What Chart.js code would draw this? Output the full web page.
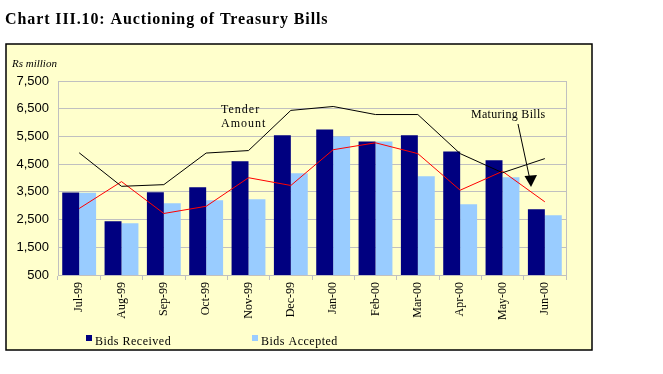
<!DOCTYPE html>
<html>
<head>
<meta charset="utf-8">
<script src="https://cdn.jsdelivr.net/npm/chart.js@4/dist/chart.umd.min.js"></script>
<style>
  html, body { margin: 0; padding: 0; background: #fff; }
  #wrap { width: 663px; height: 374px; position: relative; }
</style>
</head>
<body>
<div id="wrap"><canvas id="chart" width="663" height="374"></canvas></div>
<script>
const months = ["Jul-99", "Aug-99", "Sep-99", "Oct-99", "Nov-99", "Dec-99", "Jan-00", "Feb-00", "Mar-00", "Apr-00", "May-00", "Jun-00"];
const bidsReceived = [3480, 2440, 3490, 3670, 4600, 5540, 5750, 5320, 5540, 4960, 4640, 2870];
const bidsAccepted = [3470, 2370, 3090, 3200, 3230, 4170, 5500, 5320, 4060, 3050, 4030, 2660];
const tenderAmount = [4910, 3700, 3760, 4900, 4990, 6440, 6580, 6290, 6290, 4880, 4190, 4700];
const maturingBills = [2900, 3870, 2720, 2980, 4010, 3730, 5020, 5270, 4880, 3560, 4240, 3140];
const yMin = 500, yMax = 7500, yStep = 1000;

const SERIF = '"Liberation Serif", "Times New Roman", serif';
const SANS = '"Liberation Sans", Arial, sans-serif';

function spacedText(ctx, txt, x, y, spacing) {
  ctx.letterSpacing = spacing + 'px';
  ctx.fillText(txt, x, y);
  ctx.letterSpacing = '0px';
}

// panel, title, notes, legend
const decor = {
  id: 'decor',
  beforeDraw(chart) {
    const ctx = chart.ctx;
    ctx.save();
    ctx.fillStyle = '#ffffff';
    ctx.fillRect(0, 0, chart.width, chart.height);
    ctx.fillStyle = '#FFFFCC';
    ctx.fillRect(6, 44, 586, 306);
    ctx.strokeStyle = '#000';
    ctx.lineWidth = 1.5;
    ctx.strokeRect(6, 44, 586, 306);
    ctx.restore();
  },
  afterDraw(chart) {
    const ctx = chart.ctx;
    const a = chart.chartArea;
    ctx.save();
    // right edge of plot
    ctx.strokeStyle = '#C0C0C0';
    ctx.lineWidth = 1;
    ctx.beginPath();
    ctx.moveTo(Math.round(a.right) + 0.5, a.top);
    ctx.lineTo(Math.round(a.right) + 0.5, a.bottom);
    ctx.stroke();

    ctx.fillStyle = '#000';
    ctx.textBaseline = 'alphabetic';
    ctx.textAlign = 'left';
    ctx.font = 'bold 16px ' + SERIF;
    spacedText(ctx, 'Chart III.10: Auctioning of Treasury Bills', 5, 24, 0.9);

    ctx.font = 'italic 11px ' + SERIF;
    ctx.fillText('Rs million', 12, 67);

    ctx.font = '12px ' + SERIF;
    spacedText(ctx, 'Tender', 221, 113, 1);
    spacedText(ctx, 'Amount', 221, 127, 1);
    spacedText(ctx, 'Maturing Bills', 471, 118, 0.3);

    // arrow
    ctx.strokeStyle = '#000';
    ctx.beginPath();
    ctx.moveTo(518, 124);
    ctx.lineTo(530, 180);
    ctx.stroke();
    ctx.beginPath();
    ctx.moveTo(531, 187);
    ctx.lineTo(524.5, 176);
    ctx.lineTo(537, 175);
    ctx.closePath();
    ctx.fill();

    // legend for the bar series
    const items = chart.data.datasets.filter(d => d.type === 'bar');
    const lx = [86, 252];
    ctx.font = '12px ' + SERIF;
    ctx.textBaseline = 'middle';
    items.forEach((d, i) => {
      ctx.fillStyle = d.backgroundColor;
      ctx.fillRect(lx[i], 335, 6, 6);
      ctx.fillStyle = '#000';
      spacedText(ctx, d.label, lx[i] + 9, 342, 0.5);
    });
    ctx.restore();
  }
};

new Chart(document.getElementById('chart'), {
  data: {
    labels: months,
    datasets: [
      { type: 'line', label: 'Tender Amount', data: tenderAmount, borderColor: '#000000', borderWidth: 1, pointRadius: 0, tension: 0, fill: false, order: 0 },
      { type: 'line', label: 'Maturing Bills', data: maturingBills, borderColor: '#FF0000', borderWidth: 1, pointRadius: 0, tension: 0, fill: false, order: 0 },
      { type: 'bar', label: 'Bids Received', data: bidsReceived, backgroundColor: '#000080', categoryPercentage: 0.8, barPercentage: 1.0, order: 1 },
      { type: 'bar', label: 'Bids Accepted', data: bidsAccepted, backgroundColor: '#99CCFF', categoryPercentage: 0.8, barPercentage: 1.0, order: 1 }
    ]
  },
  options: {
    responsive: false,
    animation: false,
    layout: { padding: { left: 0, top: 81, right: 97, bottom: 0 } },
    plugins: { legend: { display: false }, tooltip: { enabled: false }, title: { display: false } },
    scales: {
      x: {
        grid: { display: true, drawOnChartArea: false, drawTicks: true, tickLength: 5, color: '#C0C0C0', offset: true },
        border: { display: true, color: '#C0C0C0' },
        ticks: { minRotation: 90, maxRotation: 90, padding: 2, color: '#000', font: { family: SERIF, size: 12 } },
        afterFit(scale) { scale.height = 99; }
      },
      y: {
        min: yMin, max: yMax,
        grid: { color: '#C0C0C0', drawTicks: false },
        border: { display: true, color: '#C0C0C0' },
        ticks: {
          stepSize: yStep, padding: 9, color: '#000',
          font: { family: SANS, size: 13 },
          callback: v => v.toLocaleString('en-US')
        },
        afterFit(scale) { scale.width = 58; }
      }
    }
  },
  plugins: [decor]
});
</script>
</body>
</html>
